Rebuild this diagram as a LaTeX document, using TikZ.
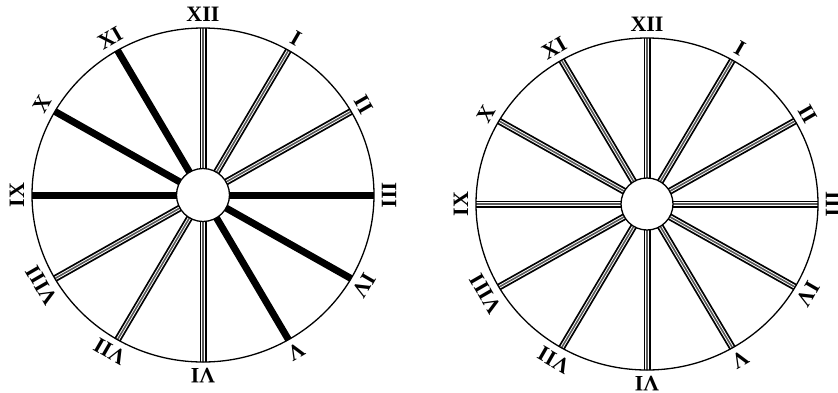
\documentclass[tikz,border=0pt]{standalone}
\usepackage{fontspec}
\setmainfont{Liberation Serif}
\begin{document}
\begin{tikzpicture}[x=1pt,y=-1pt]
\tikzset{
  rim/.style={line width=1.3pt, draw=black},
  hub/.style={circle, draw=black, line width=1.3pt, fill=white, inner sep=0pt, minimum size=#1},
  solidspoke/.style={line width=7pt, draw=black, line cap=butt},
  stripespoke/.style={line width=7pt, draw=black, line cap=butt,
    postaction={draw=white, line width=3.4pt},
    postaction={draw=black!65, line width=1.6pt}},
  numeral/.style={font=\bfseries\fontsize{22}{22}\selectfont, inner sep=0pt},
}
\useasboundingbox (0,0) rectangle (838,392);
\fill[white] (0,0) rectangle (838,392);

% ---------- left clock ----------
\coordinate (A) at (203,195);
\begin{scope}
  \clip (A) ellipse [x radius=171, y radius=167];
  \foreach \h in {1,...,12} {
    \pgfmathsetmacro\s{sin(30*\h)}
    \pgfmathsetmacro\c{cos(30*\h)}
    \coordinate (Ar\h) at ({203+175*\s},{195-171*\c});
  }
  \foreach \h in {1,2,6,7,8,12} \path[stripespoke] (A) -- (Ar\h);
  \foreach \h in {3,4,5,9,10,11} \path[solidspoke] (A) -- (Ar\h);
\end{scope}
\draw[rim] (A) ellipse [x radius=171, y radius=167];
\node[hub=53pt] (Ahub) at (A) {};
\foreach \h/\r in {1/I,2/II,3/III,4/IV,5/V,6/VI,7/VII,8/VIII,9/IX,10/X,11/XI,12/XII} {
  \pgfmathsetmacro\s{sin(30*\h)}
  \pgfmathsetmacro\c{cos(30*\h)}
  \node[numeral, rotate={-30*\h}] (Al\h) at ({203+186*\s},{195-181*\c}) {\r};
}

% ---------- right clock ----------
\coordinate (B) at (647,204);
\begin{scope}
  \clip (B) ellipse [x radius=171, y radius=166];
  \foreach \h in {1,...,12} {
    \pgfmathsetmacro\s{sin(30*\h)}
    \pgfmathsetmacro\c{cos(30*\h)}
    \coordinate (Br\h) at ({647+175*\s},{204-170*\c});
    \path[stripespoke] (B) -- (Br\h);
  }
\end{scope}
\draw[rim] (B) ellipse [x radius=171, y radius=166];
\node[hub=52pt] (Bhub) at (B) {};
\foreach \h/\r in {1/I,2/II,3/III,4/IV,5/V,6/VI,7/VII,8/VIII,9/IX,10/X,11/XI,12/XII} {
  \pgfmathsetmacro\s{sin(30*\h)}
  \pgfmathsetmacro\c{cos(30*\h)}
  \node[numeral, rotate={-30*\h}] (Bl\h) at ({647+186*\s},{204-180*\c}) {\r};
}
\end{tikzpicture}
\end{document}
